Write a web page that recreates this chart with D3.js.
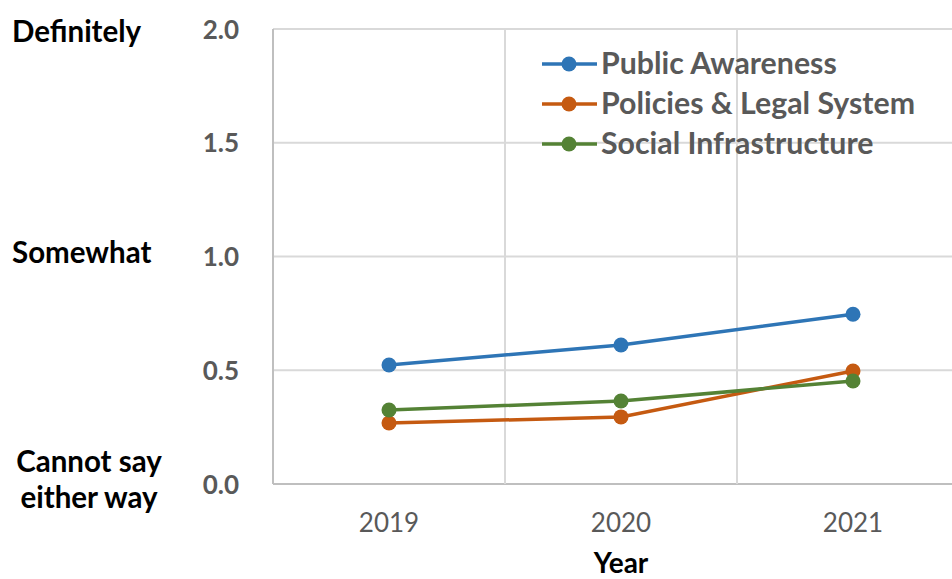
<!DOCTYPE html>
<html>
<head>
<meta charset="utf-8">
<script src="https://cdn.jsdelivr.net/npm/d3@7"></script>
<style>
  body { margin: 0; background: #fff; }
  svg { display: block; font-family: Lato, "Open Sans", sans-serif; }
</style>
</head>
<body>
<svg id="chart" width="952" height="579"></svg>
<script>
const years = ["2019", "2020", "2021"];
const publicAwareness = [0.523, 0.611, 0.746];
const policiesLegal = [0.268, 0.295, 0.497];
const socialInfra = [0.325, 0.365, 0.453];
const seriesNames = ["Public Awareness", "Policies & Legal System", "Social Infrastructure"];
const seriesColors = ["#2E75B6", "#C55A11", "#548235"];
const yTicks = [0, 0.5, 1.0, 1.5, 2.0];
const sideLabels = [
  {v: 2.0, lines: ["Definitely"]},
  {v: 1.0, lines: ["Somewhat"]},
  {v: 0.0, lines: ["Cannot say", "either way"]}
];

const svg = d3.select("#chart");
const plotLeft = 273, plotTop = 29, plotBottom = 484;
const band = 232;

// category axis with one extra slot running off the right edge
const x = d3.scaleBand().domain(years.concat(["_"])).range([plotLeft, plotLeft + band * 4]);
const y = d3.scaleLinear().domain([0, 2]).range([plotBottom, plotTop]);
const cx = d => x(d) + x.bandwidth() / 2;

// horizontal grid
svg.append("g").selectAll("line").data(yTicks).join("line")
    .attr("x1", plotLeft).attr("x2", plotLeft + band * 4)
    .attr("y1", d => y(d)).attr("y2", d => y(d))
    .attr("stroke", d => d === 0 ? "#bfbfbf" : "#d9d9d9")
    .attr("stroke-width", 2);

// vertical grid between categories
svg.append("g").selectAll("line").data(years.concat(["_"])).join("line")
    .attr("x1", d => x(d)).attr("x2", d => x(d))
    .attr("y1", plotTop).attr("y2", plotBottom)
    .attr("stroke", (d, i) => i === 0 ? "#bfbfbf" : "#d9d9d9")
    .attr("stroke-width", 2);

// y tick labels
svg.append("g").selectAll("text").data(yTicks).join("text")
    .attr("x", 239).attr("y", d => y(d) + 9.5)
    .attr("text-anchor", "end")
    .attr("font-size", 26).attr("font-weight", "bold").attr("fill", "#595959")
    .text(d => d.toFixed(1));

// side labels
const side = svg.append("g")
    .attr("font-size", 29.5).attr("font-weight", "bold").attr("fill", "#000");
sideLabels.forEach(s => {
  if (s.lines.length === 1) {
    side.append("text")
      .attr("x", 12).attr("y", y(s.v) + (s.v === 2 ? 13 : 6))
      .text(s.lines[0]);
  } else {
    s.lines.forEach((ln, i) => {
      side.append("text")
        .attr("x", 89).attr("y", 472 + i * 36)
        .attr("text-anchor", "middle")
        .text(ln);
    });
  }
});

// x tick labels
svg.append("g").selectAll("text").data(years).join("text")
    .attr("x", d => cx(d)).attr("y", 532)
    .attr("text-anchor", "middle")
    .attr("font-size", 26).attr("fill", "#595959")
    .text(d => d);

svg.append("text")
    .attr("x", cx("2020")).attr("y", 573)
    .attr("text-anchor", "middle")
    .attr("font-size", 28).attr("font-weight", "bold").attr("fill", "#000")
    .text("Year");

// series
const allSeries = [publicAwareness, policiesLegal, socialInfra];
const line = d3.line().x((d, i) => cx(years[i])).y(d => y(d));
allSeries.forEach((vals, k) => {
  const g = svg.append("g");
  g.append("path").attr("d", line(vals))
    .attr("fill", "none").attr("stroke", seriesColors[k]).attr("stroke-width", 3.5);
  g.selectAll("circle").data(vals).join("circle")
    .attr("cx", (d, i) => cx(years[i])).attr("cy", d => y(d))
    .attr("r", 7.5).attr("fill", seriesColors[k]);
});

// legend
const legend = svg.append("g");
seriesNames.forEach((name, k) => {
  const ly = 64 + k * 40;
  legend.append("line").attr("x1", 542).attr("x2", 597).attr("y1", ly).attr("y2", ly)
    .attr("stroke", seriesColors[k]).attr("stroke-width", 3.5);
  legend.append("circle").attr("cx", 569).attr("cy", ly).attr("r", 7.5).attr("fill", seriesColors[k]);
  legend.append("text").attr("x", 601).attr("y", ly + 10)
    .attr("font-size", 30.3).attr("font-weight", "bold").attr("fill", "#595959")
    .text(name);
});
</script>
</body>
</html>
